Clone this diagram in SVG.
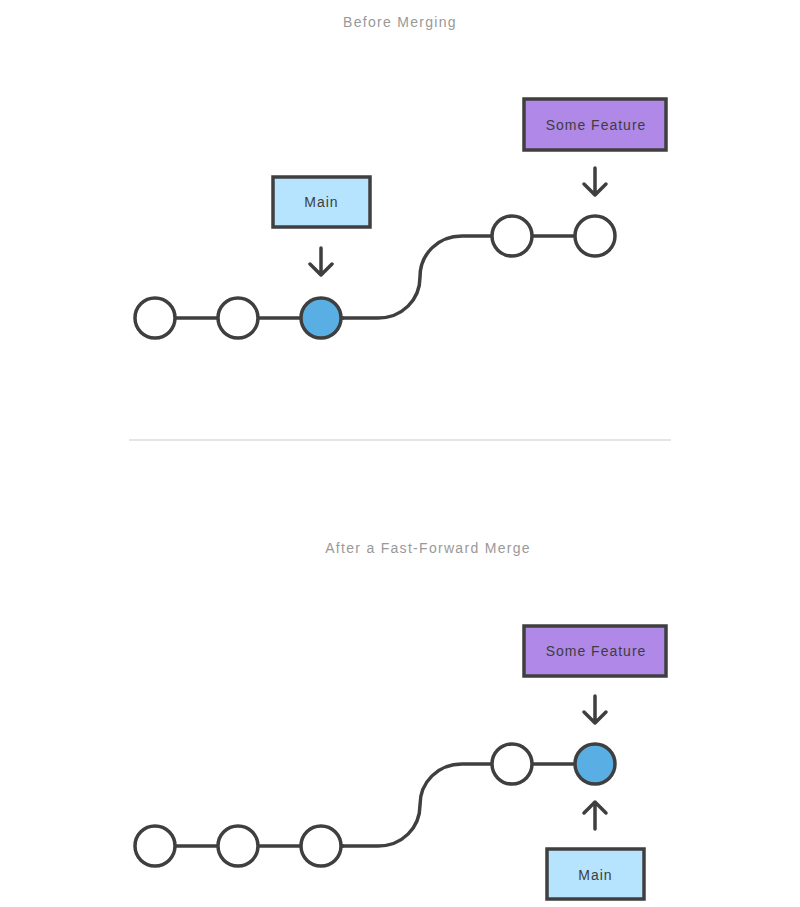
<svg xmlns="http://www.w3.org/2000/svg" width="800" height="907" viewBox="0 0 800 907">
<style>
.title{font-family:"Liberation Sans",Arial,sans-serif;font-size:14px;fill:#999;letter-spacing:1.3px;text-anchor:middle}
.lbl{font-family:"Liberation Sans",Arial,sans-serif;font-size:14px;fill:#3d3d3d;letter-spacing:1px;text-anchor:middle;dominant-baseline:central}
.box{stroke:#3f3f3f;stroke-width:3.5}
.main{fill:#b6e3fd}
.feat{fill:#b088e8}
.c{fill:#fff;stroke:#3f3f3f;stroke-width:3.5}
.cb{fill:#59afe3;stroke:#3f3f3f;stroke-width:3.5}
.ln{fill:none;stroke:#3f3f3f;stroke-width:3.5;stroke-linecap:round;stroke-linejoin:round}
</style>
<rect width="800" height="907" fill="#fff"/>
<text class="title" x="400" y="27">Before Merging</text>
<text class="title" x="428" y="553">After a Fast-Forward Merge</text>
<line x1="129" y1="440" x2="671" y2="440" stroke="#ddd" stroke-width="1.5"/>
<g id="connectors">
<path class="ln" d="M155,318 H343"/>
<path class="ln" d="M343,318 H378 C402,318 420,300 420,277 C420,254 438,236 462,236 H595"/>
<path class="ln" d="M321,248 V275 M310,264 L321,275 L332,264"/>
<path class="ln" d="M595,168 V195 M584,184 L595,195 L606,184"/>
<path class="ln" d="M155,846 H343"/>
<path class="ln" d="M343,846 H378 C402,846 420,828 420,805 C420,782 438,764 462,764 H595"/>
<path class="ln" d="M595,696 V723 M584,712 L595,723 L606,712"/>
<path class="ln" d="M595,829 V802 M584,813 L595,802 L606,813"/>
</g>
<g id="top-c1"><circle class="c" cx="155" cy="318" r="20"/></g>
<g id="top-c2"><circle class="c" cx="238" cy="318" r="20"/></g>
<g id="top-c3"><circle class="cb" cx="321" cy="318" r="20"/></g>
<g id="top-c4"><circle class="c" cx="512" cy="236" r="20"/></g>
<g id="top-c5"><circle class="c" cx="595" cy="236" r="20"/></g>
<g id="top-main"><rect class="box main" x="273" y="177" width="97" height="50"/><text class="lbl" x="321.5" y="202">Main</text></g>
<g id="top-feature"><rect class="box feat" x="524" y="99" width="142" height="51"/><text class="lbl" x="596" y="125">Some Feature</text></g>
<g id="bot-c1"><circle class="c" cx="155" cy="846" r="20"/></g>
<g id="bot-c2"><circle class="c" cx="238" cy="846" r="20"/></g>
<g id="bot-c3"><circle class="c" cx="321" cy="846" r="20"/></g>
<g id="bot-c4"><circle class="c" cx="512" cy="764" r="20"/></g>
<g id="bot-c5"><circle class="cb" cx="595" cy="764" r="20"/></g>
<g id="bot-feature"><rect class="box feat" x="524" y="626" width="142" height="50"/><text class="lbl" x="596" y="651">Some Feature</text></g>
<g id="bot-main"><rect class="box main" x="547" y="849" width="97" height="50"/><text class="lbl" x="595.5" y="875">Main</text></g>
</svg>
